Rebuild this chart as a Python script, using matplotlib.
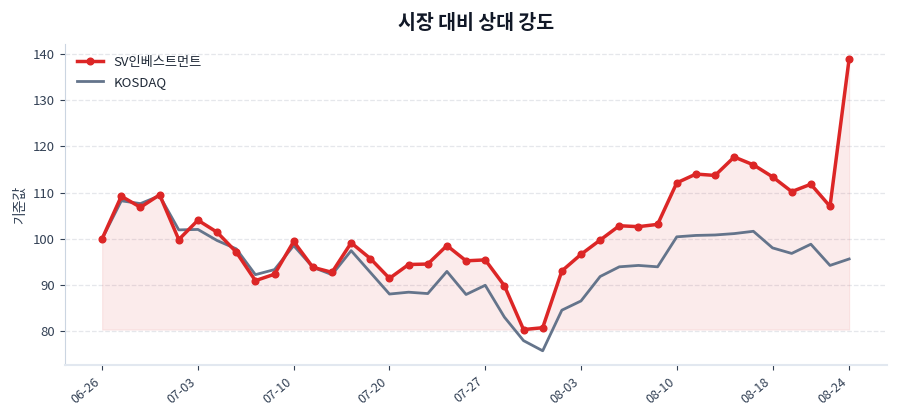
import matplotlib
matplotlib.use("Agg")
import matplotlib.pyplot as plt
import numpy as np

plt.rcParams['font.family'] = ['Noto Sans CJK KR', 'DejaVu Sans']

# 거래일 (표시용 MM-DD)
dates = ["06-26", "06-27", "06-30", "07-01", "07-02", "07-03", "07-04", "07-07", "07-08", "07-09",
         "07-10", "07-13", "07-14", "07-15", "07-16", "07-20", "07-21", "07-22", "07-23", "07-24",
         "07-27", "07-28", "07-29", "07-30", "07-31", "08-03", "08-04", "08-05", "08-06", "08-07",
         "08-10", "08-11", "08-12", "08-13", "08-14", "08-18", "08-19", "08-20", "08-21", "08-24"]

# 기준값 (첫날 = 100)
sv_invest = [100.0, 109.2, 106.8, 109.5, 99.8, 104.0, 101.4, 97.1, 90.9, 92.3,
             99.4, 93.8, 92.7, 99.1, 95.7, 91.4, 94.4, 94.5, 98.5, 95.2,
             95.4, 89.8, 80.3, 80.7, 93.0, 96.6, 99.7, 102.8, 102.6, 103.1,
             112.1, 114.0, 113.7, 117.7, 116.0, 113.4, 110.2, 111.8, 107.0, 139.0]
kosdaq = [100.0, 108.2, 107.6, 109.3, 101.9, 102.0, 99.6, 97.8, 92.2, 93.3,
          98.5, 93.8, 92.2, 97.4, 92.7, 88.0, 88.4, 88.1, 92.9, 87.9,
          89.9, 83.0, 77.9, 75.7, 84.5, 86.5, 91.8, 93.9, 94.2, 93.9,
          100.4, 100.7, 100.8, 101.1, 101.6, 98.0, 96.8, 98.8, 94.2, 95.6]

red = '#dc2626'
slate = '#64748b'
text_c = '#334155'

x = np.arange(len(dates))
sv = np.array(sv_invest)

fig, ax = plt.subplots(figsize=(9, 4.2), dpi=100)
ax.fill_between(x, sv, sv.min(), color=red, alpha=0.09, linewidth=0.8)
ax.plot(x, sv, color=red, linewidth=2.5, marker='o', markersize=4.8, label='SV인베스트먼트', zorder=3)
ax.plot(x, kosdaq, color=slate, linewidth=2, label='KOSDAQ', zorder=2)

# 눈금: 5거래일 간격 + 마지막 날
ticks = list(range(0, len(dates), 5))
if ticks[-1] != len(dates) - 1:
    ticks.append(len(dates) - 1)
ax.set_xticks(ticks)
ax.set_xticklabels([dates[i] for i in ticks], rotation=40, ha='right', fontsize=9, color=text_c)
ax.tick_params(axis='y', labelsize=9.5, labelcolor=text_c, color=text_c)
ax.tick_params(axis='x', color=text_c)

ax.set_title('시장 대비 상대 강도', fontsize=14, fontweight='bold', color='#111827', pad=11)
ax.set_ylabel('기준값', fontsize=10, color=text_c)
ax.grid(axis='y', linestyle='--', color='#e5e7eb', linewidth=0.9)
ax.set_axisbelow(True)
for s in ['top', 'right']:
    ax.spines[s].set_visible(False)
ax.spines['left'].set_color('#cbd5e1')
ax.spines['bottom'].set_color('#e2e8f0')
ax.spines['bottom'].set_linewidth(1.5)

leg = ax.legend(loc='upper left', frameon=False, fontsize=9.5)
for t in leg.get_texts():
    t.set_color('#1f2937')

fig.subplots_adjust(left=0.072, right=0.985, top=0.895, bottom=0.13)
fig.savefig('out.png', dpi=100)
